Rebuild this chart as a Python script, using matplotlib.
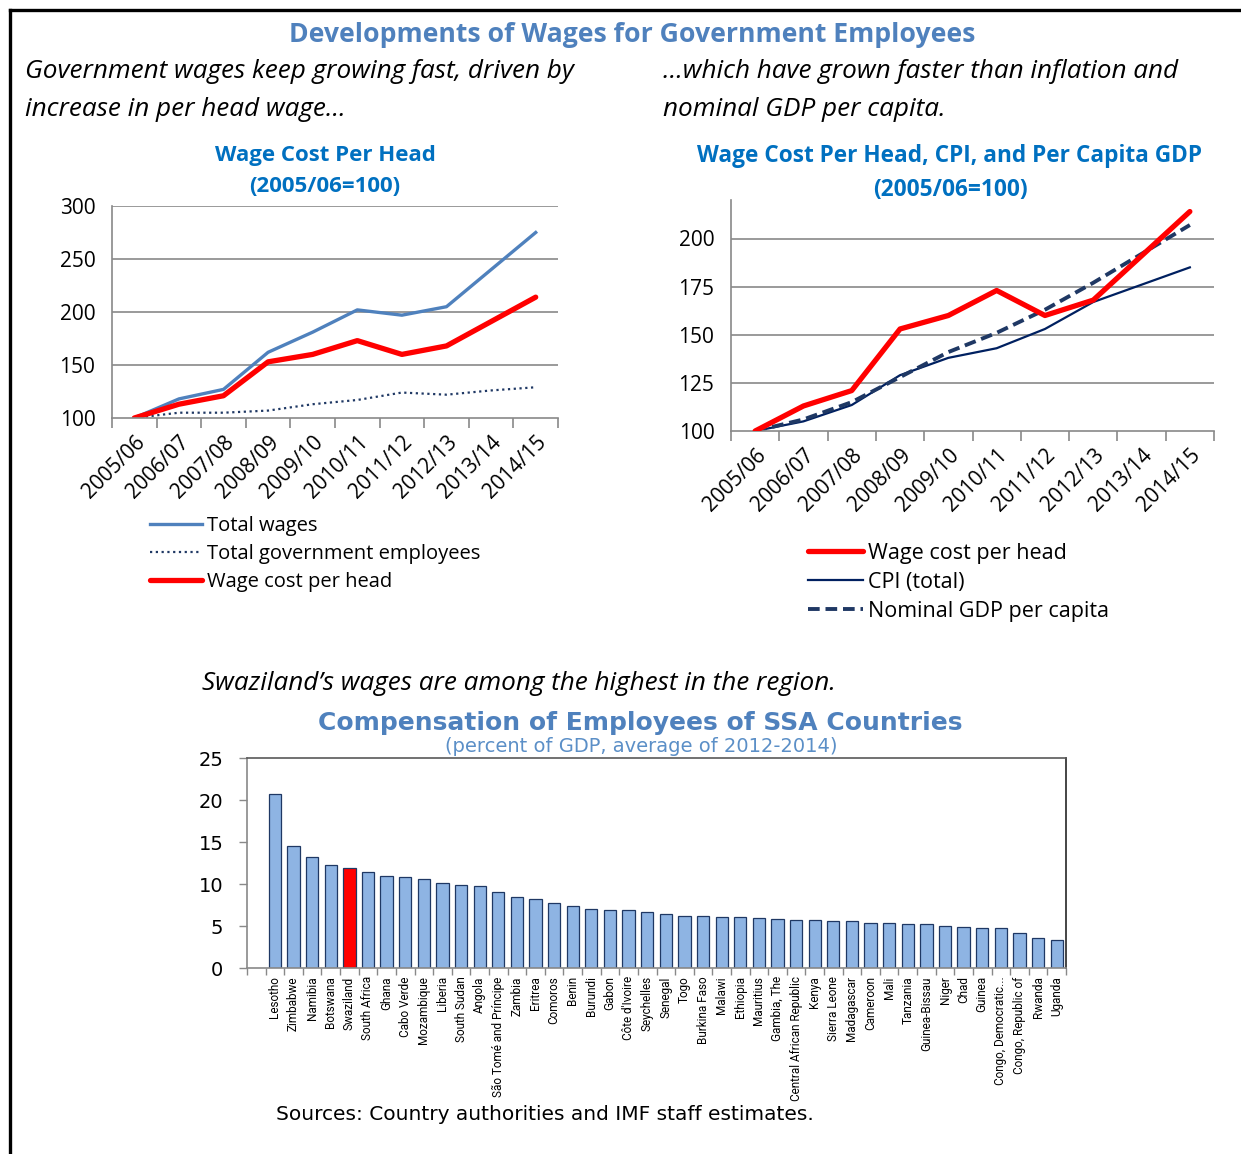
import numpy as np
import matplotlib
matplotlib.use('Agg')
import matplotlib.pyplot as plt
from matplotlib.lines import Line2D

plt.rcParams['font.family'] = ['Open Sans', 'DejaVu Sans']

W, H = 1241, 1154

# indices, 2005/06 = 100
years = ['2005/06', '2006/07', '2007/08', '2008/09', '2009/10',
         '2010/11', '2011/12', '2012/13', '2013/14', '2014/15']
total_wages = [100, 118, 127, 162, 181, 202, 197, 205, 240, 275]
total_employees = [100, 105, 105, 107, 113, 117, 124, 122, 126, 129]
wage_per_head = [100, 113, 121, 153, 160, 173, 160, 168, 191, 214]
cpi_total = [100, 105, 113.5, 129, 138, 143, 153, 167, 176, 185]
gdp_per_capita = [100, 106, 115, 128, 141, 151, 163, 177, 192, 207]

# compensation of employees, percent of GDP (avg 2012-2014)
countries = ['Lesotho', 'Zimbabwe', 'Namibia', 'Botswana', 'Swaziland',
             'South Africa', 'Ghana', 'Cabo Verde', 'Mozambique', 'Liberia',
             'South Sudan', 'Angola', 'São Tomé and Príncipe', 'Zambia',
             'Eritrea', 'Comoros', 'Benin', 'Burundi', 'Gabon',
             "Côte d'Ivoire", 'Seychelles', 'Senegal', 'Togo', 'Burkina Faso',
             'Malawi', 'Ethiopia', 'Mauritius', 'Gambia, The',
             'Central African Republic', 'Kenya', 'Sierra Leone', 'Madagascar',
             'Cameroon', 'Mali', 'Tanzania', 'Guinea-Bissau', 'Niger', 'Chad',
             'Guinea', 'Congo, Democratic...', 'Congo, Republic of', 'Rwanda',
             'Uganda']
compensation = [20.7, 14.5, 13.2, 12.3, 11.9, 11.4, 11.0, 10.8, 10.6, 10.1,
                9.9, 9.8, 9.0, 8.45, 8.2, 7.7, 7.35, 7.0, 6.95, 6.87,
                6.67, 6.4, 6.15, 6.15, 6.07, 6.07, 5.95, 5.83, 5.71, 5.67,
                5.6, 5.6, 5.36, 5.36, 5.24, 5.24, 5.0, 4.88, 4.76, 4.76,
                4.17, 3.61, 3.37]
highlight = 'Swaziland'

TITLE_BLUE = '#4F81BD'
CHART_BLUE = '#0070C0'
GRID = '#898989'
NAVY = '#1F3864'
ITALIC_SIZE = 18.8


def fx(x):
    return x / W


def fy(y):
    return 1 - y / H


def axes_px(fig, left, top, right, bottom):
    return fig.add_axes([left / W, 1 - bottom / H, (right - left) / W, (bottom - top) / H])


def style_line_axes(ax, ylim, yticks, grid_ticks):
    ax.set_xlim(-0.5, len(years) - 0.5)
    ax.set_ylim(*ylim)
    ax.set_yticks(yticks)
    for s in ['top', 'right']:
        ax.spines[s].set_visible(False)
    for s in ['left', 'bottom']:
        ax.spines[s].set_color(GRID)
        ax.spines[s].set_linewidth(1.2)
    for g in grid_ticks:
        ax.axhline(g, color=GRID, lw=1.2, zorder=0)
    ax.set_xticks(np.arange(-0.5, len(years), 1))
    ax.set_xticklabels([])
    ax.tick_params(axis='x', which='major', length=7, width=1.2, color=GRID)
    ax.set_xticks(range(len(years)), minor=True)
    ax.set_xticklabels(years, minor=True, rotation=45, ha='right',
                       rotation_mode='anchor', fontsize=15)
    ax.tick_params(axis='x', which='minor', length=0, pad=10)
    ax.tick_params(axis='y', length=0, pad=12, labelsize=15)


fig = plt.figure(figsize=(W / 100, H / 100), dpi=100)

# outer frame
fig.add_artist(Line2D([fx(10), fx(1241)], [fy(10), fy(10)], color='black', lw=2.4,
                      transform=fig.transFigure))
fig.add_artist(Line2D([fx(10), fx(10)], [fy(10), fy(1154)], color='black', lw=2.4,
                      transform=fig.transFigure))

fig.text(fx(632), fy(35), 'Developments of Wages for Government Employees',
         ha='center', va='center', fontsize=19.2, fontweight='bold', color=TITLE_BLUE)
fig.text(fx(25), fy(72), 'Government wages keep growing fast, driven by',
         ha='left', va='center', fontsize=ITALIC_SIZE, style='italic')
fig.text(fx(25), fy(110), 'increase in per head wage…',
         ha='left', va='center', fontsize=ITALIC_SIZE, style='italic')
fig.text(fx(663), fy(72), '…which have grown faster than inflation and',
         ha='left', va='center', fontsize=ITALIC_SIZE, style='italic')
fig.text(fx(663), fy(110), 'nominal GDP per capita.',
         ha='left', va='center', fontsize=ITALIC_SIZE, style='italic')

# left: wage cost per head
fig.text(fx(325), fy(155), 'Wage Cost Per Head', ha='center', va='center',
         fontsize=16, fontweight='bold', color=CHART_BLUE)
fig.text(fx(325), fy(186), '(2005/06=100)', ha='center', va='center',
         fontsize=16, fontweight='bold', color=CHART_BLUE)

ax1 = axes_px(fig, 112, 206, 558, 418)
x = np.arange(len(years))
ax1.plot(x, total_wages, color=TITLE_BLUE, lw=2.4, label='Total wages')
ax1.plot(x, total_employees, color=NAVY, lw=1.6, ls=(0, (1, 1.6)),
         label='Total government employees')
ax1.plot(x, wage_per_head, color='#FF0000', lw=3.8, label='Wage cost per head',
         solid_capstyle='round')
style_line_axes(ax1, (100, 300), [100, 150, 200, 250, 300], [150, 200, 250, 300])
ax1.legend(loc='upper left', bbox_to_anchor=(fx(150), fy(516)),
           bbox_transform=fig.transFigure, frameon=False, fontsize=14.5,
           handlelength=2.6, handletextpad=0.25, labelspacing=0.39,
           borderpad=0, borderaxespad=0)

# right: wage cost per head vs CPI and GDP per capita
fig.text(fx(950), fy(156), 'Wage Cost Per Head, CPI, and Per Capita GDP',
         ha='center', va='center', fontsize=16.3, fontweight='bold', color=CHART_BLUE)
fig.text(fx(950), fy(190), '(2005/06=100)', ha='center', va='center',
         fontsize=16.3, fontweight='bold', color=CHART_BLUE)

ax2 = axes_px(fig, 731, 200, 1214, 431)
ax2.plot(x, wage_per_head, color='#FF0000', lw=3.8, label='Wage cost per head',
         solid_capstyle='round', zorder=3)
ax2.plot(x, cpi_total, color='#002060', lw=1.6, label='CPI (total)')
ax2.plot(x, gdp_per_capita, color=NAVY, lw=2.8, ls=(0, (3, 1.5)),
         label='Nominal GDP per capita')
style_line_axes(ax2, (100, 220), [100, 125, 150, 175, 200], [125, 150, 175, 200])
ax2.legend(loc='upper left', bbox_to_anchor=(fx(808), fy(543)),
           bbox_transform=fig.transFigure, frameon=False, fontsize=15.5,
           handlelength=2.55, handletextpad=0.25, labelspacing=0.37,
           borderpad=0, borderaxespad=0)

# bottom: SSA comparison
fig.text(fx(202), fy(683), 'Swaziland’s wages are among the highest in the region.',
         ha='left', va='center', fontsize=ITALIC_SIZE, style='italic')
fig.text(fx(640), fy(723), 'Compensation of Employees of SSA Countries',
         ha='center', va='center', fontsize=18, fontweight='bold',
         color=TITLE_BLUE, family='DejaVu Sans')
fig.text(fx(641), fy(747), '(percent of GDP, average of 2012-2014)',
         ha='center', va='center', fontsize=14, color='#5B8FC7', family='DejaVu Sans')

ax3 = axes_px(fig, 247, 758, 1066, 968)
pos = np.arange(1, len(countries) + 1)
colors = ['#FF0000' if c == highlight else '#8EB4E3' for c in countries]
ax3.bar(pos, compensation, width=0.66, color=colors, edgecolor=NAVY, linewidth=0.9)
ax3.set_xlim(-0.5, len(countries) + 0.5)
ax3.set_ylim(0, 25)
ax3.set_yticks([0, 5, 10, 15, 20, 25])
ax3.set_yticklabels(['0', '5', '10', '15', '20', '25'], family='DejaVu Sans', fontsize=14)
ax3.tick_params(axis='y', length=6, width=1, color=GRID, pad=11)
ax3.set_xticks(np.arange(-0.5, len(countries) + 1, 1))
ax3.set_xticklabels([])
ax3.tick_params(axis='x', which='major', length=5, width=1, color=GRID)
ax3.set_xticks(pos, minor=True)
ax3.set_xticklabels(countries, minor=True, rotation=90, va='top', ha='center',
                    fontsize=8.5, family=['Roboto', 'Open Sans'])
ax3.tick_params(axis='x', which='minor', length=0, pad=6)
for s in ['left', 'bottom']:
    ax3.spines[s].set_color(GRID)
ax3.spines['top'].set_color('#595959')
ax3.spines['right'].set_color('#262626')
for s in ax3.spines.values():
    s.set_linewidth(1.2)

fig.text(fx(276), fy(1114), 'Sources: Country authorities and IMF staff estimates.',
         ha='left', va='center', fontsize=14.5, family='DejaVu Sans')

fig.savefig('out.png', dpi=100)
